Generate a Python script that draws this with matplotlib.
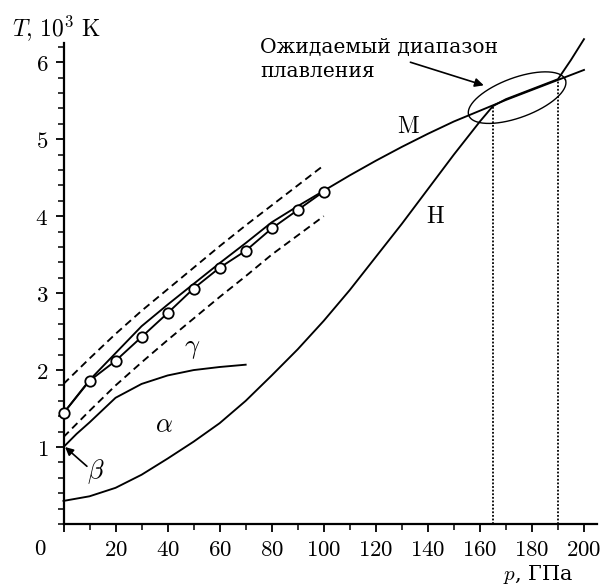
import numpy as np
import matplotlib
matplotlib.use('Agg')
import matplotlib.pyplot as plt
from matplotlib.ticker import MultipleLocator, FixedLocator, FixedFormatter

plt.rcParams['mathtext.fontset'] = 'cm'
plt.rcParams['font.family'] = ['DejaVu Serif']

# ---- data (p in GPa, T in 10^3 K) ----
circ_p = [0, 10, 20, 30, 40, 50, 60, 70, 80, 90, 100]
circ_T = [1.44, 1.86, 2.12, 2.43, 2.74, 3.06, 3.33, 3.55, 3.84, 4.08, 4.32]

dash_up_p = [0, 10, 20, 30, 40, 50, 60, 70, 80, 90, 100]
dash_up_T = [1.82, 2.15, 2.47, 2.77, 3.05, 3.33, 3.61, 3.88, 4.14, 4.40, 4.66]

dash_lo_p = [0, 10, 20, 30, 40, 50, 60, 70, 80, 90, 100]
dash_lo_T = [1.13, 1.47, 1.80, 2.10, 2.39, 2.67, 2.95, 3.22, 3.50, 3.75, 4.00]

melt_p = [0, 10, 20, 30, 40, 50, 60, 70, 80, 90, 100, 110, 120, 130, 140, 150, 160, 170, 180, 190, 200]
melt_T = [1.44, 1.87, 2.22, 2.57, 2.85, 3.12, 3.39, 3.65, 3.92, 4.13, 4.33, 4.53, 4.72, 4.90, 5.07,
          5.23, 5.37, 5.51, 5.64, 5.77, 5.90]

hug_p = [0, 10, 20, 30, 40, 50, 60, 70, 80, 90, 100, 110, 120, 130, 140, 150, 160, 165, 170, 180,
         190, 195, 200]
hug_T = [0.30, 0.36, 0.47, 0.64, 0.85, 1.07, 1.31, 1.60, 1.93, 2.27, 2.64, 3.04, 3.47, 3.90, 4.35,
         4.80, 5.23, 5.43, 5.52, 5.65, 5.78, 6.03, 6.30]

ag_p = [0, 5, 10, 15, 20, 30, 40, 50, 60, 70]
ag_T = [1.00, 1.17, 1.32, 1.48, 1.64, 1.82, 1.93, 2.00, 2.04, 2.07]

range_p = [165, 190]
range_T = [5.43, 5.77]

x_major = [0, 20, 40, 60, 80, 100, 120, 140, 160, 180, 200]
y_major = [1, 2, 3, 4, 5, 6]

# ---- figure ----
W, H = 601, 585
fig = plt.figure(figsize=(W / 100, H / 100), dpi=100)
ax = fig.add_axes([63.5 / W, 1 - 524 / H, (597 - 63.5) / W, (524 - 43) / H])
ax.set_xlim(0, 205)
ax.set_ylim(0, 6.25)
for s in ['top', 'right']:
    ax.spines[s].set_visible(False)
for s in ['left', 'bottom']:
    ax.spines[s].set_linewidth(1.6)

ax.xaxis.set_major_locator(FixedLocator(x_major))
ax.xaxis.set_major_formatter(FixedFormatter(['' if v == 0 else f'${v}$' for v in x_major]))
ax.xaxis.set_minor_locator(MultipleLocator(10))
ax.yaxis.set_major_locator(FixedLocator(y_major))
ax.yaxis.set_major_formatter(FixedFormatter([f'${v}$' for v in y_major]))
ax.yaxis.set_minor_locator(MultipleLocator(0.2))
ax.tick_params(which='major', direction='out', length=6, width=1.3, labelsize=16.5, pad=5)
ax.tick_params(which='minor', direction='out', length=4, width=1.1)
ax.tick_params(axis='x', pad=5)

lw = 1.35
ax.plot(hug_p, hug_T, color='k', lw=lw, clip_on=False, zorder=3)
ax.plot(melt_p, melt_T, color='k', lw=lw, clip_on=False, zorder=3)
ax.plot(ag_p, ag_T, color='k', lw=lw, zorder=3)
ax.plot(dash_up_p, dash_up_T, color='k', lw=lw, ls=(0, (4, 2.5)), zorder=3)
ax.plot(dash_lo_p, dash_lo_T, color='k', lw=lw, ls=(0, (4, 2.5)), zorder=3)
ax.plot(circ_p, circ_T, color='k', lw=lw, marker='o', ms=7.5, mfc='white', mec='k', mew=1.3,
        clip_on=False, zorder=4)
ax.vlines(range_p, 0, range_T, colors='k', lw=1.3, linestyles=[(0, (1, 1))], zorder=2)

# ellipse (defined in pixel space, converted to data units)
fig.canvas.draw()
sx = ax.bbox.width / 205.0
sy = ax.bbox.height / 6.25
t = np.linspace(0, 2 * np.pi, 200)
a_px, b_px, th = 51.5, 19.9, np.deg2rad(20.2)
ex = a_px * np.cos(t) * np.cos(th) - b_px * np.sin(t) * np.sin(th)
ey = a_px * np.cos(t) * np.sin(th) + b_px * np.sin(t) * np.cos(th)
ax.plot(174.3 + ex / sx, 5.54 + ey / sy, color='k', lw=1.0, zorder=3)

# labels
ax.text(132.6, 5.16, r'$\mathrm{M}$', fontsize=17, ha='center', va='center')
ax.text(142.9, 3.99, r'$\mathrm{H}$', fontsize=17, ha='center', va='center')
ax.text(38.4, 1.29, r'$\alpha$', fontsize=19, ha='center', va='center')
ax.text(49.3, 2.28, r'$\gamma$', fontsize=19, ha='center', va='center')
ax.text(12.5, 0.68, r'$\beta$', fontsize=19, ha='center', va='center')
ax.annotate('', xy=(0.6, 1.0), xytext=(9.0, 0.75),
            arrowprops=dict(arrowstyle='-|>', lw=1.2, color='k', mutation_scale=12,
                            shrinkA=0, shrinkB=0))
ax.annotate('', xy=(161.5, 5.70), xytext=(133.3, 6.0),
            arrowprops=dict(arrowstyle='-|>', lw=1.2, color='k', mutation_scale=13,
                            shrinkA=0, shrinkB=0), annotation_clip=False)
fig.text(260 / W, 1 - 77 / H, 'Ожидаемый диапазон\nплавления', fontsize=14.6, ha='left',
         va='baseline', linespacing=1.3)

fig.text(12 / W, 1 - 28 / H, r'$T,\,10^3\ \mathrm{K}$', fontsize=17, ha='left', va='center')
fig.text(503 / W, 1 - 575 / H, r'$p$, ГПа', fontsize=15, ha='left', va='center')
fig.text(40 / W, 1 - 549 / H, r'$0$', fontsize=16.5, ha='center', va='center')

fig.savefig('out.png', dpi=100)
